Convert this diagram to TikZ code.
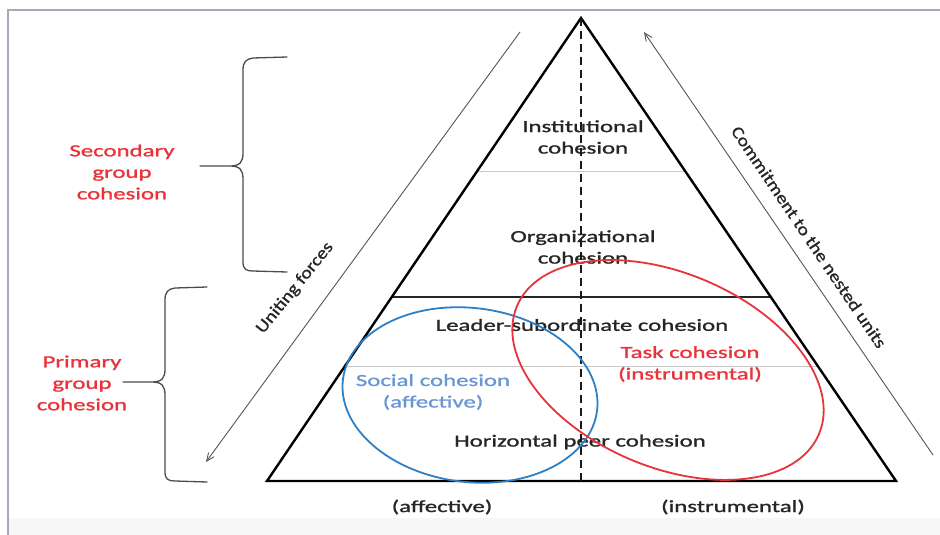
\documentclass[tikz,border=0pt]{standalone}
\usepackage{fontspec}
\setmainfont{Carlito}
\newfontfamily\widefont[FakeStretch=1.46,FakeBold=1.2]{Carlito}
\newfontfamily\sidefont[FakeStretch=1.17,FakeBold=1]{Carlito}
\usetikzlibrary{arrows.meta}
\definecolor{inkgray}{HTML}{262626}
\definecolor{cohred}{HTML}{E8333B}
\definecolor{cohblue}{HTML}{2C80C6}
\definecolor{textblue}{HTML}{6A97D4}
\definecolor{framecol}{HTML}{A3ABBA}
\definecolor{bandgray}{HTML}{C9C9C9}
\definecolor{arrowgray}{HTML}{555555}

\begin{document}
\begin{tikzpicture}[x=1pt,y=-1pt,
  lbl/.style={font=\widefont\fontsize{17}{21.5}\selectfont, text=inkgray, align=center, inner sep=0pt},
  redlbl/.style={lbl, text=cohred},
  bluelbl/.style={lbl, text=textblue},
  sidelbl/.style={font=\sidefont\fontsize{17}{20}\selectfont, text=inkgray, inner sep=0pt},
  tri/.style={line width=2.4pt, draw=black, line join=miter},
  band/.style={line width=1pt, draw=bandgray},
  midline/.style={line width=2pt, draw=black!85},
  axis/.style={line width=1.8pt, draw=black!90, dash pattern=on 8pt off 5pt},
  brace/.style={line width=1.3pt, draw=black!70, line cap=round},
  flow/.style={line width=0.9pt, draw=arrowgray, -{Straight Barb[length=8pt,width=7pt]}},
  zone/.style={line width=1.8pt}]
\useasboundingbox (0,0) rectangle (940,535);
\fill[white] (0,0) rectangle (940,535);
\fill[black!3] (9,518) rectangle (940,535);
\draw[framecol, line width=1.5pt] (8,535) -- (8,10) -- (940,10);

% pyramid corners and level lines
\coordinate (apex) at (581,18);
\coordinate (bl) at (267,481);
\coordinate (br) at (896,481);
\coordinate (base) at (581,481);
\coordinate (g1l) at (477,171);
\coordinate (g1r) at (685,171);
\coordinate (g2l) at (345,366);
\coordinate (g2r) at (818,366);
\coordinate (ml) at (392,297);
\coordinate (mr) at (771,297);

\draw[band] (g1l) -- (g1r);
\draw[band] (g2l) -- (g2r);
\draw[midline] (ml) -- (mr);
\draw[tri] (apex) -- (br) -- (bl) -- cycle;

% level labels
\node[lbl] (inst) at (583,137) {Institutional\\cohesion};
\node[lbl] (org) at (583,247) {Organizational\\cohesion};
\node[lbl] (lead) at (582,325) {Leader-subordinate cohesion};
\node[lbl] (peer) at (580,442) {Horizontal peer cohesion};
\node[redlbl] (task) at (690,364) {Task cohesion\\(instrumental)};
\node[bluelbl] (social) at (433,392) {Social cohesion\\(affective)};
\node[lbl] (aff) at (442,507) {(affective)};
\node[lbl] (instr) at (733,507) {(instrumental)};

\draw[axis] (apex) -- (base);

% overlapping zones
\draw[zone, cohblue, rotate around={-7:(470,395)}] (470,395) ellipse [x radius=128, y radius=87];
\draw[zone, cohred, rotate around={-23:(668,370)}] (668,370) ellipse [x radius=164, y radius=97];

% side arrows
\coordinate (uf1) at (520,32);
\coordinate (uf2) at (206,462);
\coordinate (cn1) at (933,455);
\coordinate (cn2) at (644,32);
\draw[flow] (uf1) -- (uf2);
\draw[flow] (cn1) -- (cn2);
\node[sidelbl, rotate=51] (unite) at (295,288) {Uniting forces};
\node[sidelbl, rotate=-56] (commit) at (809,237) {Commitment to the nested units};

% braces
\draw[brace] (287,57) -- (253,58) .. controls (246,59) and (243,62) .. (243,70)
  -- (243,153) .. controls (243,162) and (240,166) .. (230,166) -- (200,166)
  (230,166) .. controls (240,166) and (243,170) .. (243,179)
  -- (243,262) .. controls (243,269) and (246,271) .. (253,271) -- (287,272);
\draw[brace] (207,287) -- (175,288) .. controls (168,289) and (165,292) .. (165,300)
  -- (165,369) .. controls (165,378) and (162,382) .. (152,382) -- (123,382)
  (152,382) .. controls (162,382) and (165,386) .. (165,395)
  -- (165,472) .. controls (165,479) and (168,481) .. (175,481) -- (207,482);

\node[redlbl] (secondary) at (122,172) {Secondary\\group\\cohesion};
\node[redlbl] (primary) at (82,383) {Primary\\group\\cohesion};
\end{tikzpicture}
\end{document}
